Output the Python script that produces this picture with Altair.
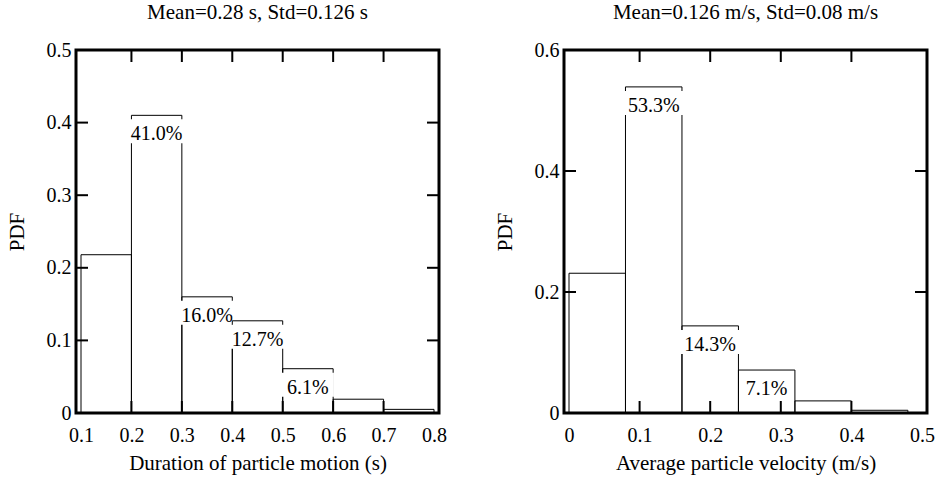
import altair as alt
import pandas as pd

# ---------------- data ----------------
# Left panel: duration of particle motion
dur_lo = [0.1, 0.2, 0.3, 0.4, 0.5, 0.6, 0.7]
dur_hi = [0.2, 0.3, 0.4, 0.5, 0.6, 0.7, 0.8]
dur_pdf = [0.218, 0.410, 0.160, 0.127, 0.061, 0.019, 0.005]
dur_lab = ["", "41.0%", "16.0%", "12.7%", "6.1%", "", ""]
dur_xticks = [0.1, 0.2, 0.3, 0.4, 0.5, 0.6, 0.7, 0.8]
dur_yticks = [0, 0.1, 0.2, 0.3, 0.4, 0.5]
dur_title = "Mean=0.28 s, Std=0.126 s"
dur_xtitle = "Duration of particle motion (s)"

# Right panel: average particle velocity
vel_lo = [0.0, 0.08, 0.16, 0.24, 0.32, 0.40]
vel_hi = [0.08, 0.16, 0.24, 0.32, 0.40, 0.48]
vel_pdf = [0.231, 0.539, 0.144, 0.071, 0.020, 0.0045]
vel_lab = ["", "53.3%", "14.3%", "7.1%", "", ""]
vel_xticks = [0, 0.1, 0.2, 0.3, 0.4, 0.5]
vel_yticks = [0, 0.2, 0.4, 0.6]
vel_title = "Mean=0.126 m/s, Std=0.08 m/s"
vel_xtitle = "Average particle velocity (m/s)"

FONT = "Liberation Serif"
W = 363
H = 363
TICK = 12


def panel(lo, hi, pdf, lab, xticks, yticks, title, xtitle):
    xdom = [xticks[0], xticks[-1]]
    ydom = [yticks[0], yticks[-1]]
    df = pd.DataFrame({"lo": lo, "hi": hi, "pdf": pdf, "lab": lab,
                       "i": list(range(len(lo)))})
    xs = alt.Scale(domain=xdom, nice=False, zero=False)
    ys = alt.Scale(domain=ydom, nice=False, zero=False)
    xaxis = alt.Axis(values=xticks, format="~g", title=xtitle, ticks=False,
                     domain=False, grid=False, labelFlush=False,
                     labelOverlap=False, labelPadding=12, titlePadding=7)
    yaxis = alt.Axis(values=yticks, format="~g", title="PDF", ticks=False,
                     domain=False, grid=False, labelOverlap=False,
                     labelPadding=5, titlePadding=19)

    def X(f):
        return alt.X(f, scale=xs, axis=xaxis)

    def Y(f):
        return alt.Y(f, scale=ys, axis=yaxis)

    base = alt.Chart(df).transform_calculate(
        mid="(datum.lo + datum.hi) / 2",
        w="length(datum.lab) * 10 + 12",
    )
    layers = []
    for i in range(len(lo)):
        b = base.transform_filter(alt.datum.i == i)
        layers.append(
            b.mark_rect(filled=False, stroke="black", strokeWidth=1).encode(
                x=X("lo:Q"), x2="hi:Q", y=Y("pdf:Q"), y2=alt.datum(0),
            )
        )
        if lab[i]:
            layers.append(
                b.mark_bar(color="white", yOffset=4, y2Offset=28).encode(
                    x=X("mid:Q"), y=Y("pdf:Q"), y2="pdf:Q",
                    size=alt.Size("w:Q", scale=None, legend=None),
                )
            )
            layers.append(
                b.mark_text(font=FONT, fontSize=20, baseline="alphabetic",
                            align="center", dy=25, color="black").encode(
                    x=X("mid:Q"), y=Y("pdf:Q"), text="lab:N",
                )
            )
    xt = pd.DataFrame({"v": xticks[1:-1]})
    yt = pd.DataFrame({"v": yticks[1:-1]})
    rule = dict(color="black", strokeWidth=2)
    layers.append(alt.Chart(xt).mark_rule(**rule).encode(
        x=X("v:Q"), y=alt.value(H), y2=alt.value(H - TICK)))
    layers.append(alt.Chart(xt).mark_rule(**rule).encode(
        x=X("v:Q"), y=alt.value(0), y2=alt.value(TICK)))
    layers.append(alt.Chart(yt).mark_rule(**rule).encode(
        y=Y("v:Q"), x=alt.value(0), x2=alt.value(TICK)))
    layers.append(alt.Chart(yt).mark_rule(**rule).encode(
        y=Y("v:Q"), x=alt.value(W), x2=alt.value(W - TICK)))
    return alt.layer(*layers).properties(
        width=W, height=H,
        title=alt.TitleParams(text=title, font=FONT, fontSize=21,
                              fontWeight="normal", color="black",
                              anchor="middle", baseline="alphabetic",
                              offset=0),
    )


left = panel(dur_lo, dur_hi, dur_pdf, dur_lab, dur_xticks, dur_yticks,
             dur_title, dur_xtitle)
right = panel(vel_lo, vel_hi, vel_pdf, vel_lab, vel_xticks, vel_yticks,
              vel_title, vel_xtitle)

chart = alt.hconcat(left, right, spacing=125, bounds="flush").properties(
    padding={"left": 4, "top": 0, "right": 0, "bottom": 0},
    background="white",
).configure_view(
    stroke="black", strokeWidth=3
).configure_axis(
    labelFont=FONT, labelFontSize=20, labelColor="black",
    titleFont=FONT, titleFontSize=21, titleColor="black",
    titleFontWeight="normal",
)

chart.save("out.html", embed_options={"renderer": "svg", "actions": False})
